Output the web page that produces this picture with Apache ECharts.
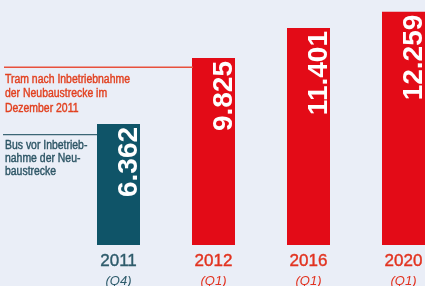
<!DOCTYPE html>
<html>
<head>
<meta charset="utf-8">
<script src="https://cdn.jsdelivr.net/npm/echarts@6/dist/echarts.min.js"></script>
<style>
  html, body { margin: 0; padding: 0; background: #eaeef7; }
  #chart { width: 425px; height: 286px; }
</style>
</head>
<body>
<div id="chart"></div>
<script>
const years = ['2011', '2012', '2016', '2020'];
const quarters = ['(Q4)', '(Q1)', '(Q1)', '(Q1)'];
const passengers = [6362, 9825, 11401, 12259];
const valueLabels = ['6.362', '9.825', '11.401', '12.259'];

const TEAL = '#0f5468';
const RED = '#e30b17';
const FONT = '"Liberation Sans", sans-serif';

const chart = echarts.init(document.getElementById('chart'));

// kleine Helfer fuer die Achsenbeschriftung (etwas kraeftiger gesetzt)
const yearStyle = (c) => ({ color: c, fontSize: 17, lineHeight: 18, fontFamily: 'Liberation Sans', textBorderColor: c, textBorderWidth: 0.4 });
const quarterStyle = (c) => ({ color: c, fontSize: 13, lineHeight: 22, fontStyle: 'italic', fontFamily: 'Liberation Sans' });

const option = {
  backgroundColor: '#eaeef7',
  animation: false,
  grid: { left: 71, width: 380, top: 0, height: 245, outerBoundsMode: 'none', containLabel: false },
  xAxis: {
    type: 'category',
    data: years,
    axisLine: { show: false },
    axisTick: { show: false },
    axisLabel: {
      margin: 7,
      interval: 0,
      formatter: (v, i) => i === 0
        ? `{yt|${v}}\n{qt|${quarters[i]}}`
        : `{yr|${v}}\n{qr|${quarters[i]}}`,
      rich: {
        yt: yearStyle('#2e5b6b'),
        yr: yearStyle('#e2321f'),
        qt: quarterStyle('#2e5b6b'),
        qr: quarterStyle('#e2321f')
      }
    }
  },
  yAxis: {
    type: 'value',
    min: 0,
    max: 12875,
    show: false,
    splitLine: { show: false }
  },
  series: [{
    type: 'bar',
    barWidth: 43,
    data: passengers.map((v, i) => ({
      value: v,
      itemStyle: { color: i === 0 ? TEAL : RED }
    })),
    label: {
      show: true,
      position: ['74%', 3],
      rotate: 90,
      align: 'right',
      verticalAlign: 'middle',
      color: '#ffffff',
      fontSize: 28,
      fontWeight: 'bold',
      fontFamily: 'Liberation Sans',
      formatter: (p) => valueLabels[p.dataIndex]
    }
  }],
  graphic: [
    { type: 'rect', z: 100, shape: { x: 4, y: 66.5, width: 189, height: 1.5 }, style: { fill: '#e8503c' } },
    {
      type: 'text', x: 5, y: 72, scaleX: 0.87,
      style: {
        text: 'Tram nach Inbetriebnahme\nder Neubaustrecke im\nDezember 2011',
        fill: '#e2401f', stroke: '#e2401f', lineWidth: 0.4,
        font: '12px ' + FONT, lineHeight: 14.5
      }
    },
    { type: 'rect', z: 100, shape: { x: 3, y: 134, width: 94, height: 1.2 }, style: { fill: '#3c6676' } },
    {
      type: 'text', x: 5, y: 139, scaleX: 0.87,
      style: {
        text: 'Bus vor Inbetrieb-\nnahme der Neu-\nbaustrecke',
        fill: '#2d5565', stroke: '#2d5565', lineWidth: 0.4,
        font: '12px ' + FONT, lineHeight: 13
      }
    }
  ]
};

chart.setOption(option);
</script>
</body>
</html>
